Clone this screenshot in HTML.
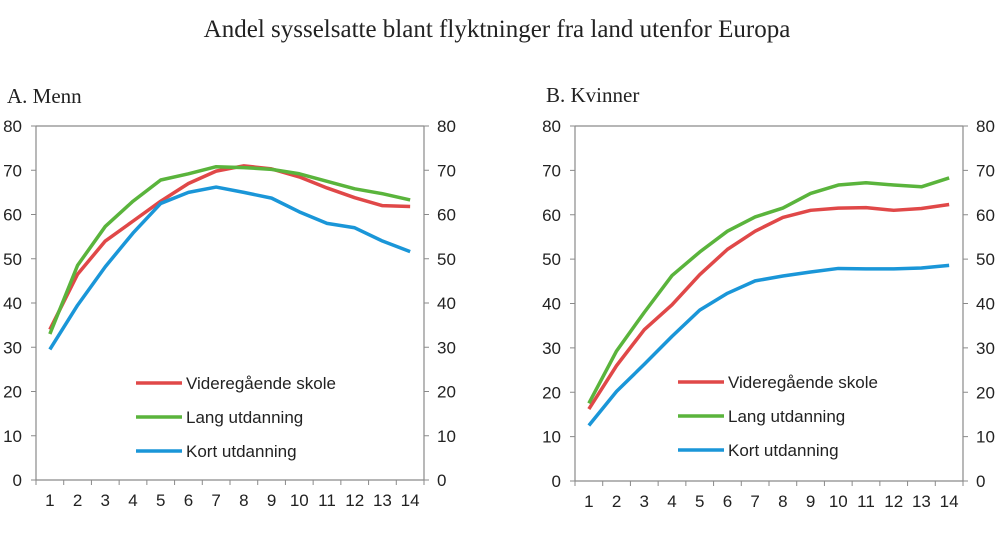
<!DOCTYPE html>
<html><head><meta charset="utf-8"><style>
body{margin:0;background:#fff;width:1000px;height:533px;overflow:hidden}
svg text{font-family:"Liberation Sans",sans-serif;fill:#222}
</style></head><body>
<svg id="c" width="1000" height="533" xmlns="http://www.w3.org/2000/svg">
<text x="497" y="37" text-anchor="middle" style="font-family:'Liberation Serif',serif;font-size:25px">Andel sysselsatte blant flyktninger fra land utenfor Europa</text>
<text x="7" y="103" style="font-family:'Liberation Serif',serif;font-size:21px">A. Menn</text>
<text x="546" y="102" style="font-family:'Liberation Serif',serif;font-size:21px">B.  Kvinner</text>
</svg>
<script>
const categories=[1,2,3,4,5,6,7,8,9,10,11,12,13,14];
const yTicks=[0,10,20,30,40,50,60,70,80];
const seriesNames=["Videregående skole","Lang utdanning","Kort utdanning"];
const seriesColors=["#e04848","#5ab43c","#1a96d8"];
const menVid=[34,46.5,54,58.5,63,67,69.8,71,70.3,68.5,66,63.8,62,61.8];
const menLang=[33,48.5,57.3,63,67.8,69.2,70.8,70.6,70.2,69.2,67.5,65.8,64.7,63.3];
const menKort=[29.5,39.5,48.2,55.8,62.5,65,66.2,65,63.7,60.6,58,57,54,51.6];
const womVid=[16.2,26,34.1,39.7,46.5,52.2,56.3,59.4,61,61.5,61.6,61,61.4,62.3];
const womLang=[17.5,29.3,38,46.3,51.6,56.3,59.5,61.5,64.8,66.7,67.2,66.7,66.3,68.3];
const womKort=[12.5,20.2,26.3,32.6,38.5,42.3,45.1,46.2,47.1,47.9,47.8,47.8,48,48.6];
const svg=document.getElementById('c');
const NS="http://www.w3.org/2000/svg";
function mk(tag,attrs,parent){const e=document.createElementNS(NS,tag);for(const k in attrs)e.setAttribute(k,attrs[k]);(parent||svg).appendChild(e);return e;}
function panel(id,x0,x1,y0,y1,series,legX,legY){
  const g=mk('g',{});
  
  
  const n=categories.length,w=(x1-x0)/n;
  const xs=i=>x0+w*(i+0.5);
  const ys=v=>y1-(v/80)*(y1-y0);
  const ax=mk('path',{d:`M${x0},${y0}H${x1}M${x0},${y0}V${y1}H${x1}V${y0}`,stroke:'#8a8a8a','stroke-width':1.2,fill:'none'},g);
  
  
  yTicks.forEach(t=>{const y=ys(t);
    mk('line',{x1:x0-5,x2:x0,y1:y,y2:y,stroke:'#8a8a8a'},g);
    mk('line',{x1:x1,x2:x1+5,y1:y,y2:y,stroke:'#8a8a8a'},g);
    const l=mk('text',{x:x0-14,y:y+6,'text-anchor':'end','font-size':17},g);l.textContent=t;
    
    
    const r=mk('text',{x:x1+13,y:y+6,'font-size':17},g);r.textContent=t;
    
    
  });
  for(let i=0;i<=n;i++)mk('line',{x1:x0+w*i,x2:x0+w*i,y1:y1,y2:y1+5,stroke:'#8a8a8a'},g);
  categories.forEach((c,i)=>{const t=mk('text',{x:xs(i),y:y1+26,'text-anchor':'middle','font-size':17},g);t.textContent=c;
    
    });
  series.forEach((s,k)=>{
    const p=mk('polyline',{points:s.map((v,i)=>xs(i)+','+ys(v)).join(' '),fill:'none',stroke:seriesColors[k],'stroke-width':3.5,'stroke-linejoin':'round'},g);
    
    
    const ly=legY+k*34;
    const ll=mk('line',{x1:legX,x2:legX+46,y1:ly,y2:ly,stroke:seriesColors[k],'stroke-width':3.5},g);
    
    
    const lt=mk('text',{x:legX+50,y:ly+6,'font-size':17},g);lt.textContent=seriesNames[k];
    
    
  });
}
panel('panel-men',36,424,126,480,[menVid,menLang,menKort],136,383);
panel('panel-women',575,963,126,481,[womVid,womLang,womKort],678,382);
</script>
</body></html>
